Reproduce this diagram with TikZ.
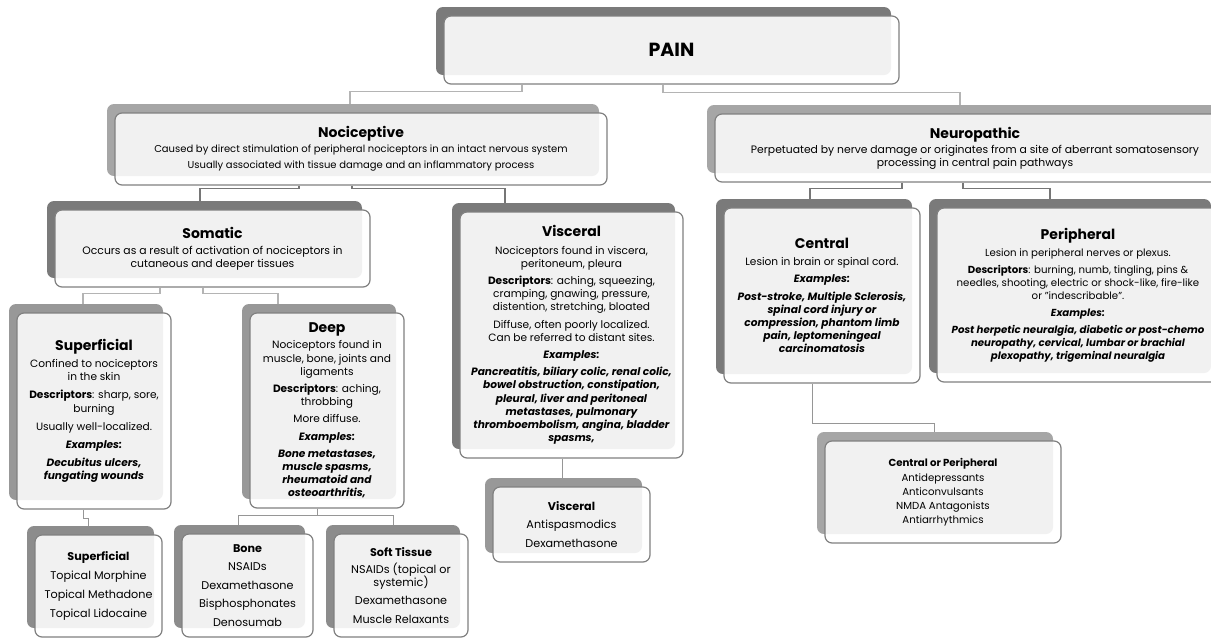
\documentclass[tikz,border=0pt]{standalone}
\usepackage{fontspec}
\setmainfont{Poppins}
\usepackage{tikz}
\usetikzlibrary{shadows, backgrounds}
\definecolor{backdark}{RGB}{122,122,122}
\definecolor{backmid}{RGB}{152,152,152}
\definecolor{backtreat}{RGB}{140,140,140}
\definecolor{backlight}{RGB}{166,166,166}
\definecolor{framegray}{RGB}{128,128,128}
\definecolor{panelgray}{RGB}{241,241,241}
\definecolor{linklight}{RGB}{180,180,180}
\definecolor{linkdark}{RGB}{118,118,118}
\definecolor{linkmid}{RGB}{150,150,150}

\newcommand{\cardtitle}[1]{{\fontsize{14}{16}\selectfont\bfseries #1}}
\newcommand{\examples}[1]{{\bfseries\itshape #1}}

\begin{document}
\begin{tikzpicture}[x=1pt, y=-1pt,
      card/.style={rectangle, rounded corners=7pt, draw=framegray, line width=1.2pt, fill=white, align=center, inner sep=2pt,
        general shadow={fill=#1, shadow xshift=-8pt, shadow yshift=9pt},
        path picture={\fill[panelgray, rounded corners=7pt] ([shift={(-8pt,9pt)}]path picture bounding box.south west) rectangle ([shift={(-8pt,9pt)}]path picture bounding box.north east);}},
      card/.default=backdark,
      body/.style={font=\fontsize{10.6}{13.2}\selectfont},
      treat/.style={font=\fontsize{11.2}{13.4}\selectfont},
      link/.style={draw=linklight, line width=1.6pt},
      linkdark/.style={draw=linkdark, line width=1.6pt},
      linkthin/.style={draw=linkmid, line width=0.9pt},
    ]
    \useasboundingbox (0,0) rectangle (1211,638);
    \clip (0,0) rectangle (1211,638);

    % top level
    \node[card, minimum width=455pt, minimum height=68pt, font=\fontsize{19}{21}\selectfont\bfseries] (pain) at (671.5,50) {PAIN};

    % nociceptive / neuropathic
    \node[card=backlight, font=\fontsize{10}{12}\selectfont, minimum width=492pt, minimum height=72pt] (noci) at (361,149)
      {\cardtitle{Nociceptive}\\[3pt]
       Caused by direct stimulation of peripheral nociceptors in an intact nervous system\\[4pt]
       Usually associated with tissue damage and an inflammatory process};
    \node[card=backlight, font=\fontsize{10.8}{12.6}\selectfont, minimum width=520pt, minimum height=68pt] (neuro) at (975,148)
      {\cardtitle{Neuropathic}\\[3pt]
       Perpetuated by nerve damage or originates from a site of aberrant somatosensory\\
       processing in central pain pathways};

    % second row
    \node[card, font=\fontsize{10.8}{12.8}\selectfont, minimum width=315pt, minimum height=77pt] (soma) at (212.5,248.5)
      {\cardtitle{Somatic}\\[3pt]
       Occurs as a result of activation of nociceptors in\\cutaneous and deeper tissues};
    \node[card, body, minimum width=223pt, minimum height=246pt] (visc) at (571.5,335)
      {\cardtitle{Visceral}\\[4pt]
       Nociceptors found in viscera,\\peritoneum, pleura\\[4pt]
       \textbf{Descriptors}: aching, squeezing,\\cramping, gnawing, pressure,\\distention, stretching, bloated\\[4pt]
       Diffuse, often poorly localized.\\Can be referred to distant sites.\\[4pt]
       \examples{Examples:}\\[4pt]
       \examples{Pancreatitis, biliary colic, renal colic,}\\
       \examples{bowel obstruction, constipation,}\\
       \examples{pleural, liver and peritoneal}\\
       \examples{metastases, pulmonary}\\
       \examples{thromboembolism, angina, bladder}\\
       \examples{spasms,}};
    \node[card, body, minimum width=196pt, minimum height=175pt] (central) at (822,295.5)
      {\cardtitle{Central}\\[4pt]
       Lesion in brain or spinal cord.\\[4pt]
       \examples{Examples:}\\[4pt]
       \examples{Post-stroke, Multiple Sclerosis,}\\
       \examples{spinal cord injury or}\\
       \examples{compression, phantom limb}\\
       \examples{pain, leptomeningeal}\\
       \examples{carcinomatosis}};
    \node[card, font=\fontsize{10.2}{13}\selectfont, minimum width=282pt, minimum height=174pt] (periph) at (1078,295)
      {\cardtitle{Peripheral}\\[4pt]
       Lesion in peripheral nerves or plexus.\\[4pt]
       \textbf{Descriptors}: burning, numb, tingling, pins \&\\
       needles, shooting, electric or shock-like, fire-like\\
       or "indescribable".\\[4pt]
       \examples{Examples:}\\[4pt]
       \examples{Post herpetic neuralgia, diabetic or post-chemo}\\
       \examples{neuropathy, cervical, lumbar or brachial}\\
       \examples{plexopathy, trigeminal neuralgia}};

    % third row
    \node[card=backmid, body, minimum width=154pt, minimum height=196pt] (superf) at (94,411)
      {\cardtitle{Superficial}\\[4pt]
       Confined to nociceptors\\in the skin\\[5pt]
       \textbf{Descriptors}: sharp, sore,\\burning\\[5pt]
       Usually well-localized.\\[5pt]
       \examples{Examples:}\\[5pt]
       \examples{Decubitus ulcers,}\\
       \examples{fungating wounds}};
    \node[card=backmid, body, minimum width=154pt, minimum height=195pt] (deep) at (327,410.5)
      {\cardtitle{Deep}\\[3pt]
       Nociceptors found in\\muscle, bone, joints and\\ligaments\\[4pt]
       \textbf{Descriptors}: aching,\\throbbing\\[4pt]
       More diffuse.\\[4pt]
       \examples{Examples:}\\[4pt]
       \examples{Bone metastases,}\\
       \examples{muscle spasms,}\\
       \examples{rheumatoid and}\\
       \examples{osteoarthritis,}};

    % treatments
    \node[card=backtreat, treat, minimum width=127pt, minimum height=102pt] (tSuperf) at (98.5,586)
      {\textbf{Superficial}\\[5.5pt] Topical Morphine\\[5.5pt] Topical Methadone\\[5.5pt] Topical Lidocaine};
    \node[card=backtreat, treat, minimum width=131pt, minimum height=103pt] (tBone) at (247.5,585.5)
      {\textbf{Bone}\\[5pt] NSAIDs\\[5pt] Dexamethasone\\[5pt] Bisphosphonates\\[5pt] Denosumab};
    \node[card=backtreat, treat, minimum width=134pt, minimum height=103pt] (tSoft) at (401,585.5)
      {\textbf{Soft Tissue}\\[3pt] NSAIDs (topical or\\systemic)\\[5pt] Dexamethasone\\[5pt] Muscle Relaxants};
    \node[card=backmid, treat, minimum width=157pt, minimum height=75pt] (tVisc) at (571.5,524.5)
      {\textbf{Visceral}\\[5.5pt] Antispasmodics\\[5.5pt] Dexamethasone};
    \node[card=backlight, font=\fontsize{10.2}{14}\selectfont, minimum width=236pt, minimum height=102pt] (tCP) at (943,492)
      {\textbf{Central or Peripheral}\\[1pt] Antidepressants\\ Anticonvulsants\\ NMDA Antagonists\\ Antiarrhythmics};

    % connectors
    \begin{scope}[on background layer]
      \draw[link] ([xshift=-149.5pt]pain.south) -- ++(0,7) -| ([xshift=-11pt]noci.north);
      \draw[link] ([xshift=-8.5pt]pain.south) -- ++(0,8) -| ([xshift=-15pt]neuro.north);
      \draw[linkdark] ([xshift=-62pt]noci.south) -- ++(0,3) -| ([xshift=-12.5pt]soma.north);
      \draw[linkdark] ([xshift=-9pt]noci.south) -- ++(0,3) -| ([xshift=-66.5pt]visc.north);
      \draw[linkdark] ([xshift=-73pt]neuro.south) -- ++(0,6) -| ([xshift=-12pt]central.north);
      \draw[linkdark] ([xshift=-12pt]neuro.south) -- ++(0,6) -| ([xshift=-28pt]periph.north);
      \draw[link] ([xshift=-52.5pt]soma.south) -- ++(0,6) -| ([xshift=-11pt]superf.north);
      \draw[link] ([xshift=-9.5pt]soma.south) -- ++(0,6) -| ([xshift=-49pt]deep.north);
      \draw[linkthin] ([xshift=-11pt]superf.south) -- ++(0,9) -| ([xshift=-10.5pt]tSuperf.north);
      \draw[linkthin] ([xshift=-10pt]deep.south) -- ++(0,7) -| ([xshift=-9.5pt]tBone.north);
      \draw[linkthin] ([xshift=-10pt]deep.south) -- ++(0,7) -| ([xshift=-8pt]tSoft.north);
      \draw[linkthin] ([xshift=-9.5pt]visc.south) -- ([xshift=-9.5pt]tVisc.north);
      \draw[linkthin] ([xshift=-10pt]central.south) -- ++(0,40) -| ([xshift=-9pt]tCP.north);
    \end{scope}
  \end{tikzpicture}
\end{document}
